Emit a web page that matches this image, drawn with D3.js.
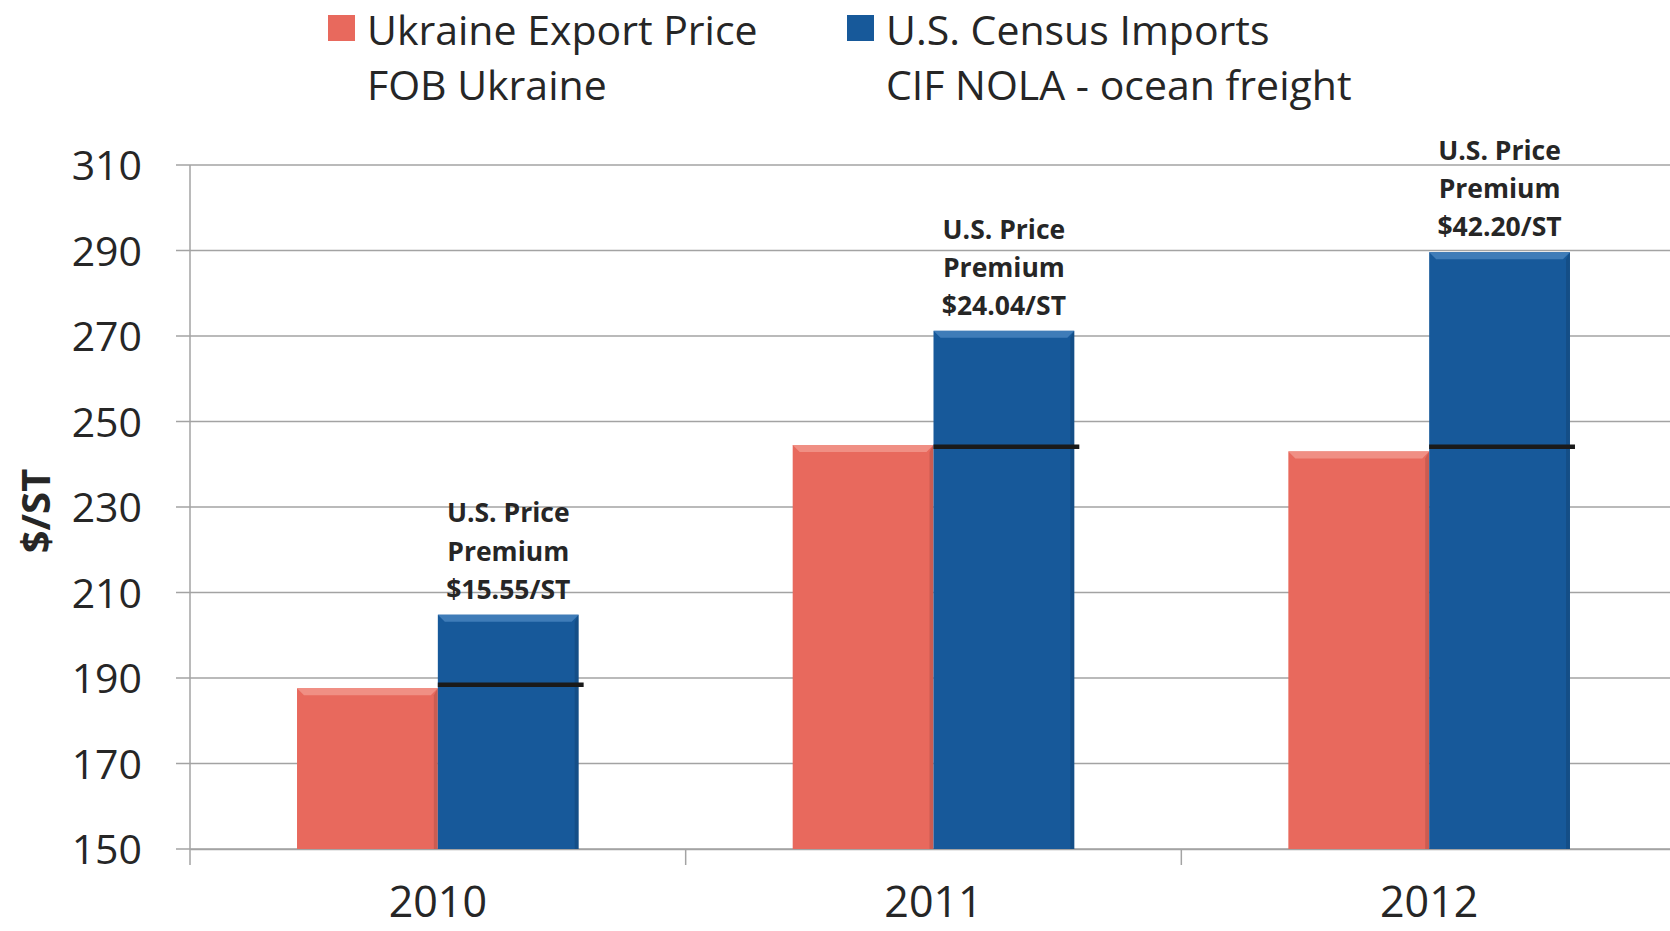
<!DOCTYPE html>
<html>
<head>
<meta charset="utf-8">
<script src="https://cdn.jsdelivr.net/npm/d3@7"></script>
<style>
  html, body { margin: 0; padding: 0; background: #fff; }
  svg text { font-family: "Open Sans", "Noto Sans", sans-serif; fill: #262626; }
</style>
</head>
<body>
<div id="chart"></div>
<script>
// chart data
const years = ['2010', '2011', '2012'];
const ukraineExport = [187.6, 244.5, 243.0];
const usImports = [204.8, 271.2, 289.6];
const fobPlusFreight = [188.4, 244.1, 244.1];
const premiumLabels = ['$15.55/ST', '$24.04/ST', '$42.20/ST'];
const yTicks = [150, 170, 190, 210, 230, 250, 270, 290, 310];
const seriesNames = ['Ukraine Export Price', 'U.S. Census Imports'];
const seriesSub = ['FOB Ukraine', 'CIF NOLA - ocean freight'];
const seriesColors = ['#e8695d', '#17599a'];
const seriesLight = ['#f08f84', '#3f7cb8'];

const width = 1670, height = 931;
const margin = {t: 165, r: -7, b: 82, l: 190};
const w = width - margin.l - margin.r;
const h = height - margin.t - margin.b;

const svg = d3.select('#chart').append('svg')
    .attr('width', width)
    .attr('height', height);

const plot = svg.append('g')
    .attr('transform', `translate(${margin.l},${margin.t})`);

// scales
const scaleX = d3.scaleBand()
    .domain(years)
    .range([0, w])
    .padding(0);
const scaleSeries = d3.scaleBand()
    .domain([0, 1])
    .range([0, scaleX.bandwidth()])
    .paddingInner(0)
    .paddingOuter(0.76);
const scaleY = d3.scaleLinear()
    .domain([150, 310])
    .range([h, 0]);

// gridlines
plot.append('g')
    .selectAll('line')
    .data(yTicks)
    .join('line')
    .attr('x1', -14)
    .attr('x2', w)
    .attr('y1', d => scaleY(d))
    .attr('y2', d => scaleY(d))
    .style('stroke', '#a3a3a3')
    .style('stroke-width', 1.5);

// y axis
const axisY = d3.axisLeft(scaleY)
    .tickValues(yTicks)
    .tickSize(0)
    .tickPadding(48);
const axisYNode = plot.append('g')
    .attr('class', 'axis axis-y')
    .call(axisY);
axisYNode.select('.domain')
    .attr('d', `M0,0V${h}`)
    .style('stroke', '#a3a3a3')
    .style('stroke-width', 1.5);
axisYNode.selectAll('text')
    .style('font-size', '41px')
    .style('fill', '#262626')
    .attr('dy', '0.36em');

// x axis
const axisX = d3.axisBottom(scaleX)
    .tickSize(0);
const axisXNode = plot.append('g')
    .attr('class', 'axis axis-x')
    .attr('transform', `translate(0,${h})`)
    .call(axisX);
axisXNode.select('.domain')
    .style('stroke', '#a3a3a3')
    .style('stroke-width', 1.5);
axisXNode.selectAll('text')
    .style('font-size', '43px')
    .style('fill', '#262626')
    .attr('y', 68)
    .attr('dy', 0);
// category separators
axisXNode.append('g')
    .selectAll('line')
    .data(years)
    .join('line')
    .attr('x1', d => scaleX(d))
    .attr('x2', d => scaleX(d))
    .attr('y1', 0)
    .attr('y2', 16)
    .style('stroke', '#a3a3a3')
    .style('stroke-width', 1.5);

// y axis title
svg.append('text')
    .attr('transform', `translate(50,511) rotate(-90)`)
    .attr('text-anchor', 'middle')
    .style('font-size', '40px')
    .style('font-weight', 700)
    .text('$/ST');

// bars
const barData = years.map((yr, i) => [
    {year: yr, s: 0, v: ukraineExport[i]},
    {year: yr, s: 1, v: usImports[i]}
]).flat();

const bars = plot.append('g')
    .selectAll('g')
    .data(barData)
    .join('g')
    .attr('transform', d => `translate(${scaleX(d.year) + scaleSeries(d.s)},0)`);

bars.append('rect')
    .attr('x', 0)
    .attr('y', d => scaleY(d.v))
    .attr('width', scaleSeries.bandwidth())
    .attr('height', d => h - scaleY(d.v))
    .style('fill', d => seriesColors[d.s]);

// bevel on top edge
const bev = 7;
bars.append('path')
    .attr('d', d => {
        const y0 = scaleY(d.v), bw = scaleSeries.bandwidth();
        return `M0,${y0}H${bw}L${bw - bev},${y0 + bev}H${bev}Z`;
    })
    .style('fill', d => seriesLight[d.s]);
bars.append('path')
    .attr('d', d => {
        const y0 = scaleY(d.v), bw = scaleSeries.bandwidth();
        return `M${bw},${y0}V${h}H${bw - 4}V${y0 + bev}Z`;
    })
    .style('fill', '#000')
    .style('fill-opacity', 0.12);

// black reference line across the blue bar
plot.append('g')
    .selectAll('line')
    .data(years)
    .join('line')
    .attr('x1', d => scaleX(d) + scaleSeries(1))
    .attr('x2', d => scaleX(d) + scaleSeries(1) + scaleSeries.bandwidth() + 5)
    .attr('y1', (d, i) => scaleY(fobPlusFreight[i]))
    .attr('y2', (d, i) => scaleY(fobPlusFreight[i]))
    .style('stroke', '#1a1a1a')
    .style('stroke-width', 4.5);

// premium labels
const labels = plot.append('g')
    .selectAll('text')
    .data(years)
    .join('text')
    .attr('text-anchor', 'middle')
    .attr('x', d => scaleX(d) + scaleSeries(1) + scaleSeries.bandwidth() / 2)
    .attr('y', (d, i) => scaleY(usImports[i]) - 16)
    .style('font-size', '26.5px')
    .style('font-weight', 700);
labels.selectAll('tspan')
    .data((d, i) => ['U.S. Price', 'Premium', premiumLabels[i]])
    .join('tspan')
    .attr('x', function() { return this.parentNode.getAttribute('x'); })
    .attr('dy', (d, i) => i === 0 ? '-2.88em' : '1.44em')
    .text(d => d);

// legend
const legendX = [328, 847];
const legend = svg.append('g')
    .selectAll('g')
    .data(seriesNames)
    .join('g')
    .attr('transform', (d, i) => `translate(${legendX[i]},0)`);
legend.append('rect')
    .attr('x', 0)
    .attr('y', 15)
    .attr('width', 27)
    .attr('height', 26)
    .style('fill', (d, i) => seriesColors[i]);
legend.append('text')
    .attr('x', 39)
    .attr('y', 45)
    .style('font-size', '41px')
    .text(d => d);
legend.append('text')
    .attr('x', 39)
    .attr('y', 100)
    .style('font-size', '41px')
    .text((d, i) => seriesSub[i]);
</script>
</body>
</html>
